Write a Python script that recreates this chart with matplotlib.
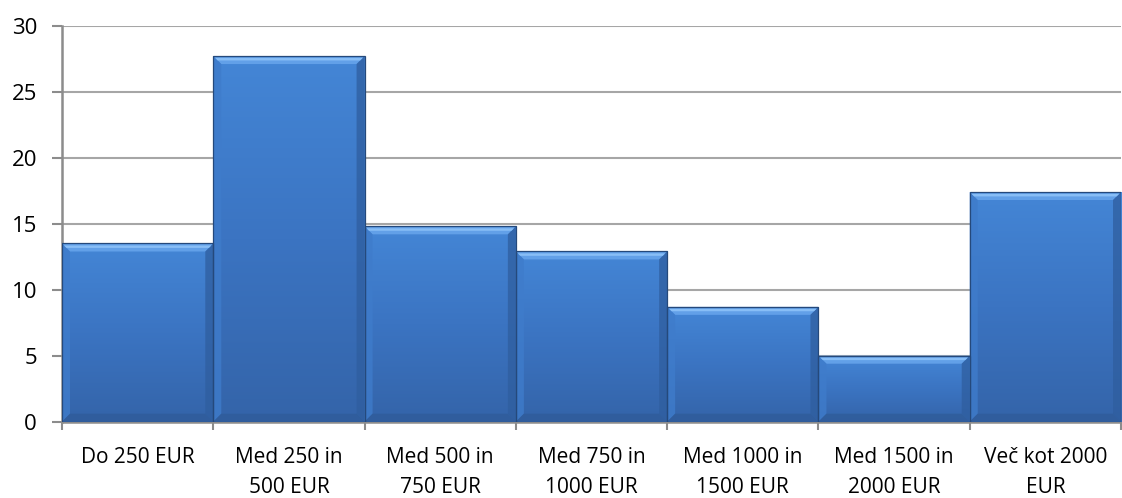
import matplotlib
matplotlib.use("Agg")
import matplotlib.pyplot as plt
import numpy as np
from matplotlib.colors import LinearSegmentedColormap
from matplotlib.patches import Polygon

plt.rcParams["font.family"] = ["Open Sans", "DejaVu Sans"]

# ── podatki ──────────────────────────────────────────────
CATEGORIES = [
    "Do 250 EUR",
    "Med 250 in\n500 EUR",
    "Med 500 in\n750 EUR",
    "Med 750 in\n1000 EUR",
    "Med 1000 in\n1500 EUR",
    "Med 1500 in\n2000 EUR",
    "Več kot 2000\nEUR",
]
VALUES = [13.5, 27.7, 14.8, 12.9, 8.7, 5.0, 17.4]
Y_TICKS = [0, 5, 10, 15, 20, 25, 30]

W, H, DPI = 1122, 498, 100
fig = plt.figure(figsize=(W / DPI, H / DPI), dpi=DPI)
ax = fig.add_axes([62 / W, 1 - 421.7 / H, (1121 - 62) / W, (421.7 - 25.7) / H])

x = np.arange(len(VALUES))
bars = ax.bar(x, VALUES, width=1.0, color="none", edgecolor="none", zorder=3)

ax.set_xlim(-0.5, len(VALUES) - 0.5)
ax.set_ylim(0, 30)
ax.set_yticks(Y_TICKS)
ax.set_yticklabels([str(t) for t in Y_TICKS], fontsize=16, color="#000000")
ax.set_xticks(x)
ax.set_xticklabels(CATEGORIES, fontsize=15, linespacing=1.55, va="top")
ax.set_xticks(np.arange(len(VALUES) + 1) - 0.5, minor=True)

ax.tick_params(axis="y", length=7, width=1.5, color="#8C8C8C", pad=11)
ax.tick_params(axis="x", which="major", length=0, pad=18)
ax.tick_params(axis="x", which="minor", length=6, width=1.5, color="#8C8C8C")

ax.grid(axis="y", color="#A6A6A6", linewidth=1.5, zorder=0)
ax.set_axisbelow(True)
for side in ("top", "right"):
    ax.spines[side].set_visible(False)
for side in ("left", "bottom"):
    ax.spines[side].set_color("#8C8C8C")
    ax.spines[side].set_linewidth(1.8)

# ── bevel bars: vertical gradient + light/dark edges ──
body = LinearSegmentedColormap.from_list("body", ["#3464A9", "#3B74C2", "#4486D6"])
grad = np.linspace(0, 1, 256).reshape(-1, 1)

fig.canvas.draw()
px_x = ax.transData.transform((1, 0))[0] - ax.transData.transform((0, 0))[0]
px_y = ax.transData.transform((0, 1))[1] - ax.transData.transform((0, 0))[1]
bev = 8.0
dx, dy = bev / px_x, bev / px_y

for b in bars:
    x0, w, h = b.get_x(), b.get_width(), b.get_height()
    x1 = x0 + w
    im = ax.imshow(grad, cmap=body, origin="lower", aspect="auto",
                   extent=(x0, x1, 0, h), zorder=3, interpolation="bilinear")
    im.set_clip_path(b)

    top = Polygon([(x0, h), (x1, h), (x1 - dx, h - dy), (x0 + dx, h - dy)],
                  closed=True, fc="#62A0E8", ec="none", zorder=4)
    left = Polygon([(x0, 0), (x0, h), (x0 + dx, h - dy), (x0 + dx, dy)],
                   closed=True, fc="#3F7CCB", ec="none", alpha=0.8, zorder=4)
    right = Polygon([(x1, 0), (x1, h), (x1 - dx, h - dy), (x1 - dx, dy)],
                    closed=True, fc="#2F5E9F", ec="none", alpha=0.75, zorder=4)
    bottom = Polygon([(x0, 0), (x1, 0), (x1 - dx, dy), (x0 + dx, dy)],
                     closed=True, fc="#2F5C9A", ec="none", alpha=0.8, zorder=4)
    for p in (top, left, right, bottom):
        ax.add_patch(p)
    # thin light stripe along the very top
    ax.add_patch(Polygon([(x0 + dx * 0.25, h - dy * 0.25), (x1 - dx * 0.25, h - dy * 0.25),
                          (x1 - dx * 0.55, h - dy * 0.55), (x0 + dx * 0.55, h - dy * 0.55)],
                         closed=True, fc="#88BEF6", ec="none", zorder=4))
    ax.add_patch(plt.Rectangle((x0, 0), w, h, fill=False, ec="#25497B",
                               lw=0.9, zorder=5))

fig.savefig("out.png", dpi=DPI, facecolor="white")
